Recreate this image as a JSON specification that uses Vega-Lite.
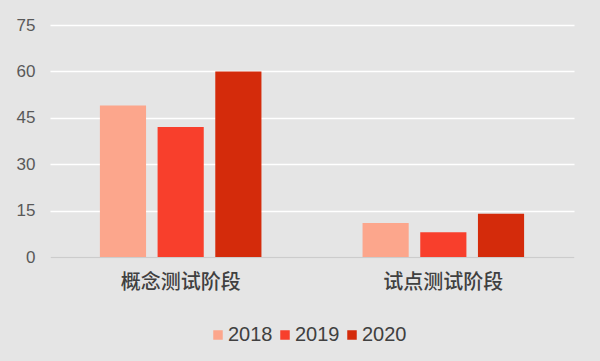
{
  "$schema": "https://vega.github.io/schema/vega-lite/v6.json",
  "width": 524,
  "height": 232,
  "autosize": "none",
  "padding": {"left": 50, "top": 25, "right": 26, "bottom": 104},
  "background": "#e5e5e5",
  "config": {
    "view": {"stroke": null},
    "font": "Liberation Sans"
  },
  "data": {
    "values": [
      {"stage": "概念测试阶段", "year": "2018", "value": 49},
      {"stage": "概念测试阶段", "year": "2019", "value": 42},
      {"stage": "概念测试阶段", "year": "2020", "value": 60},
      {"stage": "试点测试阶段", "year": "2018", "value": 11},
      {"stage": "试点测试阶段", "year": "2019", "value": 8},
      {"stage": "试点测试阶段", "year": "2020", "value": 14}
    ]
  },
  "mark": {"type": "bar"},
  "encoding": {
    "x": {
      "field": "stage", "type": "nominal", "sort": null,
      "scale": {"paddingInner": 0.385, "paddingOuter": 0.19},
      "axis": {
        "title": null, "labelAngle": 0, "ticks": false,
        "domainColor": "#cccccc", "domainWidth": 1.5,
        "labelFont": "Noto Sans CJK SC", "labelFontSize": 20, "labelFontWeight": 500, "labelColor": "#404040",
        "labelPadding": 15
      }
    },
    "xOffset": {"field": "year", "type": "nominal", "scale": {"paddingInner": 0.2, "paddingOuter": 0}},
    "y": {
      "field": "value", "type": "quantitative",
      "scale": {"domain": [0, 75], "nice": false},
      "axis": {
        "title": null, "values": [0, 15, 30, 45, 60, 75], "domain": false, "ticks": false,
        "gridColor": "#ffffff", "gridWidth": 1.5,
        "labelFontSize": 17, "labelColor": "#595959", "labelPadding": 15
      }
    },
    "color": {
      "field": "year", "type": "nominal",
      "scale": {"domain": ["2018", "2019", "2020"], "range": ["#fca68c", "#f83f2c", "#d42b0b"]},
      "legend": {
        "title": null, "orient": "none", "direction": "horizontal",
        "legendX": 158, "legendY": 300, "padding": 0,
        "symbolType": "square", "symbolSize": 90, "symbolStrokeWidth": 0,
        "labelFontSize": 20, "labelColor": "#404040", "columnPadding": 2, "labelOffset": 0
      }
    }
  }
}
